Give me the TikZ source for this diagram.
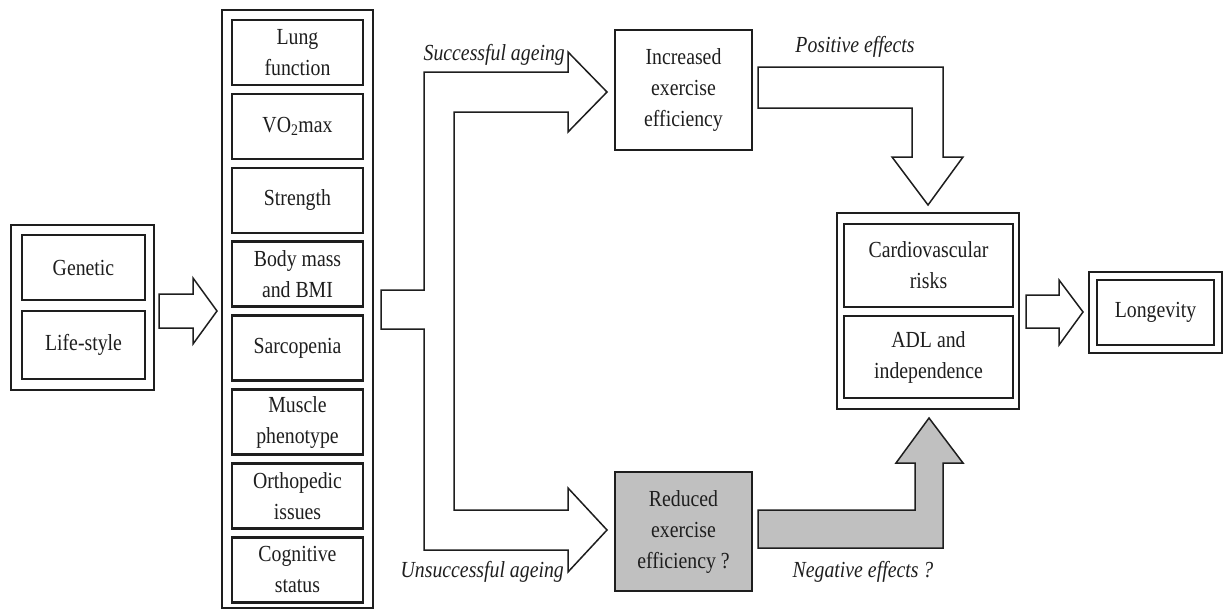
\documentclass[tikz,border=0pt]{standalone}
\usepackage{fontspec}
\setmainfont{Liberation Serif}[FakeStretch=0.86]
\definecolor{shade}{RGB}{192,192,192}
\definecolor{ink}{RGB}{30,30,30}
\tikzset{
  frame/.style={draw=ink, line width=2pt, fill=white, inner sep=0pt},
  cell/.style={draw=ink, line width=2.5pt, inner sep=0pt, align=center,
    text=ink, font=\fontsize{23}{31}\selectfont},
  blockarrow/.style={draw=ink, line width=1.5pt, fill=white, line join=miter},
  grayarrow/.style={blockarrow, fill=shade},
  note/.style={inner sep=0pt, text=ink, font=\fontsize{23}{31}\selectfont\itshape},
}
\begin{document}
\begin{tikzpicture}[x=1pt, y=-1pt]
\useasboundingbox (0,0) rectangle (1225,610);

% determinants on the left
\node[frame, minimum width=143pt, minimum height=165pt] (src) at (82.5,307.5) {};
\node[cell, minimum width=123pt, minimum height=65pt] (gen) at (83.5,267.5) {Genetic};
\node[cell, minimum width=123pt, minimum height=68pt] (life) at (83.5,345) {Life-style};

% arrow into the column of factors
\draw[blockarrow] (159,294) -- (193,294) -- (193,278) -- (217,311) -- (193,344)
  -- (193,328) -- (159,328) -- cycle;

% column of physiological factors
\node[frame, minimum width=151pt, minimum height=598pt] (col) at (297.5,309) {};
\foreach \t [count=\i from 0] in {Lung\\function, VO\textsubscript{2}max, Strength,
    Body mass\\and BMI, Sarcopenia, Muscle\\phenotype, Orthopedic\\issues,
    Cognitive\\status} {
  \node[cell, minimum width=131pt, minimum height=65pt] (m\i) at (297.5,{52.5+\i*73.9}) {\t};
}

% forked arrow towards the two outcomes
\draw[blockarrow] (568,72) -- (424,72) -- (424,290) -- (381,290) -- (381,329)
  -- (424,329) -- (424,550) -- (568,550) -- (568,572) -- (607,530) -- (568,488)
  -- (568,510) -- (454,510) -- (454,112) -- (568,112) -- (568,132) -- (607,92)
  -- (568,52) -- cycle;
\node[note, anchor=east] (succ) at (565,55) {Successful ageing};
\node[note, anchor=east] (unsucc) at (564,572) {Unsuccessful ageing};

% exercise efficiency outcomes
\node[cell, minimum width=137pt, minimum height=120pt] (inc) at (683.5,90)
  {Increased\\exercise\\efficiency};
\node[cell, fill=shade, minimum width=137pt, minimum height=119pt] (red) at (683.5,531.5)
  {Reduced\\exercise\\efficiency ?};

% effects on health
\draw[blockarrow] (758,67) -- (943,67) -- (943,157) -- (963,157) -- (928,205)
  -- (892,157) -- (912,157) -- (912,108) -- (758,108) -- cycle;
\node[note] (pos) at (855,47) {Positive effects};

\draw[grayarrow] (758,510) -- (915,510) -- (915,463) -- (896,463) -- (929,418)
  -- (963,463) -- (943,463) -- (943,548) -- (758,548) -- cycle;
\node[note] (neg) at (863,572) {Negative effects ?};

\node[frame, minimum width=182pt, minimum height=196pt] (health) at (928,311) {};
\node[cell, minimum width=169pt, minimum height=83pt] (cv) at (928.5,265.5)
  {Cardiovascular\\risks};
\node[cell, minimum width=169pt, minimum height=82pt] (adl) at (928.5,357)
  {ADL and\\independence};

% longevity
\draw[blockarrow] (1026,295) -- (1059,295) -- (1059,280) -- (1083,312) -- (1059,345)
  -- (1059,328) -- (1026,328) -- cycle;
\node[frame, minimum width=133pt, minimum height=81pt] (lonout) at (1155.5,312.5) {};
\node[cell, minimum width=117pt, minimum height=65pt] (lon) at (1155.5,312.5) {Longevity};
\end{tikzpicture}
\end{document}
